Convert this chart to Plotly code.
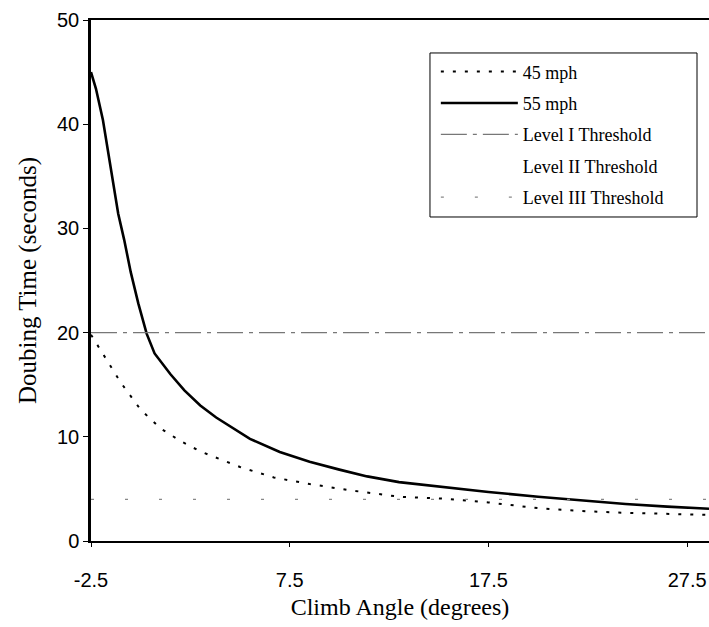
import plotly.graph_objects as go

# Data
angle_55 = [-2.5, -2.25, -1.9, -1.5, -1.13, -0.83, -0.5, -0.12, 0.3, 0.7, 1.5, 2.2, 3.0, 3.8, 4.6, 5.5, 7.0, 8.5, 10.0, 11.4, 13.0, 15.0, 17.5, 20.0, 22.5, 24.4, 26.5, 28.6]
time_55 = [45.0, 43.4, 40.4, 35.8, 31.4, 28.9, 25.8, 22.8, 19.9, 18.0, 16.0, 14.45, 13.0, 11.85, 10.85, 9.8, 8.55, 7.6, 6.85, 6.2, 5.65, 5.2, 4.7, 4.25, 3.85, 3.55, 3.3, 3.1]

angle_45 = [-2.5, -2.0, -1.5, -1.0, -0.5, 0.0, 1.0, 2.0, 3.0, 5.0, 6.7, 8.5, 10.4, 13.0, 15.4, 17.5, 20.0, 22.5, 24.2, 26.5, 28.6]
time_45 = [19.8, 18.3, 16.8, 15.2, 13.9, 12.6, 10.8, 9.6, 8.6, 7.1, 6.1, 5.47, 4.9, 4.25, 4.05, 3.7, 3.15, 2.85, 2.72, 2.6, 2.5]

x_span = [-2.5, 28.6]
level1 = [20, 20]
level3 = [4, 4]

x_ticks = [-2.5, 7.5, 17.5, 27.5]
y_ticks = [0, 10, 20, 30, 40, 50]

fig = go.Figure()
fig.add_trace(go.Scatter(x=angle_45, y=time_45, mode="lines", name="45 mph", legendgroup="a",
                         line=dict(color="black", width=2, dash="3px,9px")))
fig.add_trace(go.Scatter(x=angle_55, y=time_55, mode="lines", name="55 mph", legendgroup="b",
                         line=dict(color="black", width=2.6)))
fig.add_trace(go.Scatter(x=x_span, y=level1, mode="lines", name="Level I Threshold", legendgroup="c",
                         line=dict(color="#777777", width=1.2, dash="26px,6px,4px,6px")))
fig.add_trace(go.Scatter(x=[None], y=[None], mode="lines", name="Level II Threshold", legendgroup="d",
                         line=dict(color="rgba(0,0,0,0)", width=1)))
fig.add_trace(go.Scatter(x=x_span, y=level3, mode="lines", name="Level III Threshold", legendgroup="e",
                         line=dict(color="#888888", width=1.2, dash="3px,31px")))

# legend frame
fig.add_shape(type="rect", xref="paper", yref="paper",
              x0=0.5485, x1=0.9806, y0=0.6219, y1=0.9367,
              line=dict(color="black", width=1), fillcolor="white", layer="above")

fig.update_layout(
    width=709, height=627,
    margin=dict(l=91, r=0, t=20, b=86),
    paper_bgcolor="white", plot_bgcolor="white",
    showlegend=True,
    legend=dict(x=0.558, y=0.936, xanchor="left", yanchor="top",
                borderwidth=0, bgcolor="rgba(0,0,0,0)",
                font=dict(family="Liberation Serif", size=18, color="black"),
                itemwidth=77, tracegroupgap=5,
                traceorder="grouped"),
    font=dict(family="Liberation Sans", color="black"),
)
fig.update_xaxes(
    range=x_span, tickvals=x_ticks, ticktext=[str(v) for v in x_ticks],
    showgrid=False, zeroline=False,
    showline=True, linecolor="black", linewidth=2, mirror=True,
    ticks="outside", ticklen=4, tickcolor="black",
    tickfont=dict(family="Liberation Sans", size=20, color="black"),
    ticklabelstandoff=16,
    title=dict(text="Climb Angle (degrees)", font=dict(family="Liberation Serif", size=24, color="black"), standoff=8),
)
fig.update_yaxes(
    range=[0, 50], tickvals=y_ticks,
    showgrid=False, zeroline=False,
    showline=True, linecolor="black", linewidth=2.5,
    ticks="outside", ticklen=5, tickcolor="black",
    tickfont=dict(family="Liberation Sans", size=20, color="black"),
    title=dict(text="Doubing Time (seconds)", font=dict(family="Liberation Serif", size=25, color="black"), standoff=14),
)

fig.write_html("out.html")
